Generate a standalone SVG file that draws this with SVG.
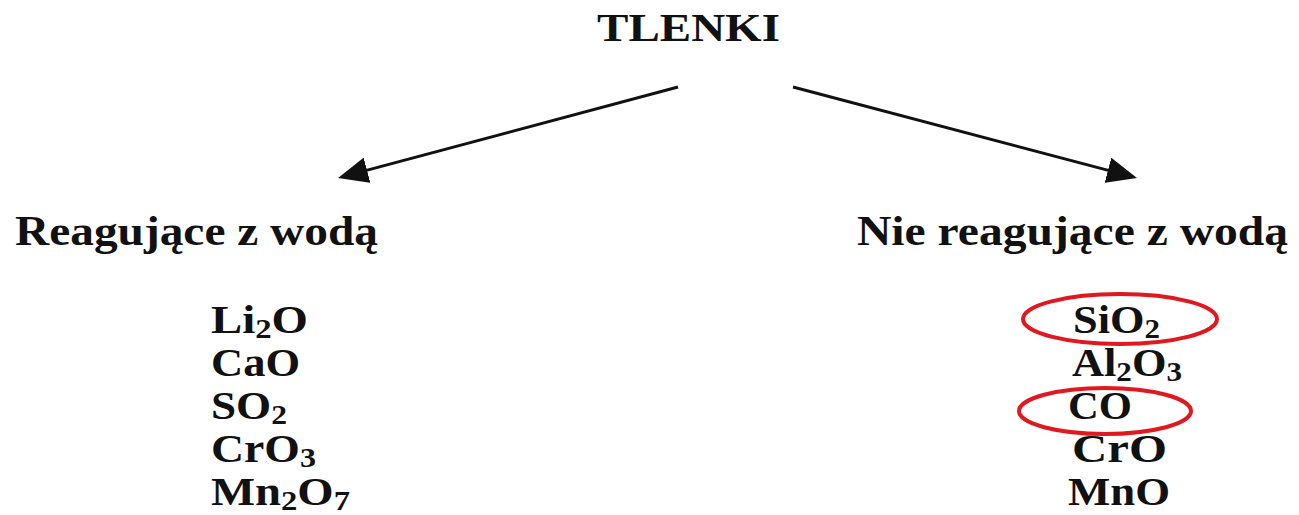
<svg xmlns="http://www.w3.org/2000/svg" width="1299" height="515" viewBox="0 0 1299 515">
  <style>
    .t { font-family: "Times New Roman", "Liberation Serif", Tinos, serif; font-weight: bold; fill: #111; }
    .title { font-size: 40px; }
    .head { font-size: 43px; }
    .item { font-size: 40px; }
    .sub { font-size: 28px; }
    .link { stroke: #111; stroke-width: 3; fill: none; }
    .mark { fill: none; stroke: #e01820; stroke-width: 4; }
  </style>
  <defs>
    <marker id="arrow" viewBox="0 0 30 26" refX="20" refY="13" markerWidth="30" markerHeight="26" markerUnits="userSpaceOnUse" orient="auto">
      <path d="M0,0 L30,13 L0,26 Z" fill="#111"/>
    </marker>
  </defs>

  <rect width="1299" height="515" fill="#fff"/>

  <g id="root">
    <text class="t title" x="597" y="41" textLength="183" lengthAdjust="spacingAndGlyphs">TLENKI</text>
  </g>

  <g id="connectors">
    <line class="link" x1="678" y1="87" x2="347.7" y2="175.4" marker-end="url(#arrow)"/>
    <line class="link" x1="793" y1="87" x2="1127.3" y2="175.4" marker-end="url(#arrow)"/>
  </g>

  <g id="reacting">
    <text class="t head" x="15" y="245" textLength="363" lengthAdjust="spacingAndGlyphs">Reagujące z wodą</text>
    <text class="t item" x="211" y="333" textLength="97" lengthAdjust="spacingAndGlyphs">Li<tspan class="sub" dy="5">2</tspan><tspan dy="-5">O</tspan></text>
    <text class="t item" x="211" y="376" textLength="89" lengthAdjust="spacingAndGlyphs">CaO</text>
    <text class="t item" x="211" y="419" textLength="76" lengthAdjust="spacingAndGlyphs">SO<tspan class="sub" dy="5">2</tspan></text>
    <text class="t item" x="211" y="462" textLength="105" lengthAdjust="spacingAndGlyphs">CrO<tspan class="sub" dy="5">3</tspan></text>
    <text class="t item" x="211" y="505" textLength="139" lengthAdjust="spacingAndGlyphs">Mn<tspan class="sub" dy="5">2</tspan><tspan dy="-5">O</tspan><tspan class="sub" dy="5">7</tspan></text>
  </g>

  <g id="non-reacting">
    <text class="t head" x="857" y="245" textLength="431" lengthAdjust="spacingAndGlyphs">Nie reagujące z wodą</text>
    <text class="t item" x="1073" y="333" textLength="87" lengthAdjust="spacingAndGlyphs">SiO<tspan class="sub" dy="5">2</tspan></text>
    <text class="t item" x="1072" y="376" textLength="110" lengthAdjust="spacingAndGlyphs">Al<tspan class="sub" dy="5">2</tspan><tspan dy="-5">O</tspan><tspan class="sub" dy="5">3</tspan></text>
    <text class="t item" x="1068" y="419" textLength="64" lengthAdjust="spacingAndGlyphs">CO</text>
    <text class="t item" x="1072" y="462" textLength="95" lengthAdjust="spacingAndGlyphs">CrO</text>
    <text class="t item" x="1068" y="505" textLength="102" lengthAdjust="spacingAndGlyphs">MnO</text>
    <ellipse class="mark" cx="1120" cy="319" rx="97" ry="25"/>
    <ellipse class="mark" cx="1105" cy="411" rx="86" ry="23"/>
  </g>
</svg>
